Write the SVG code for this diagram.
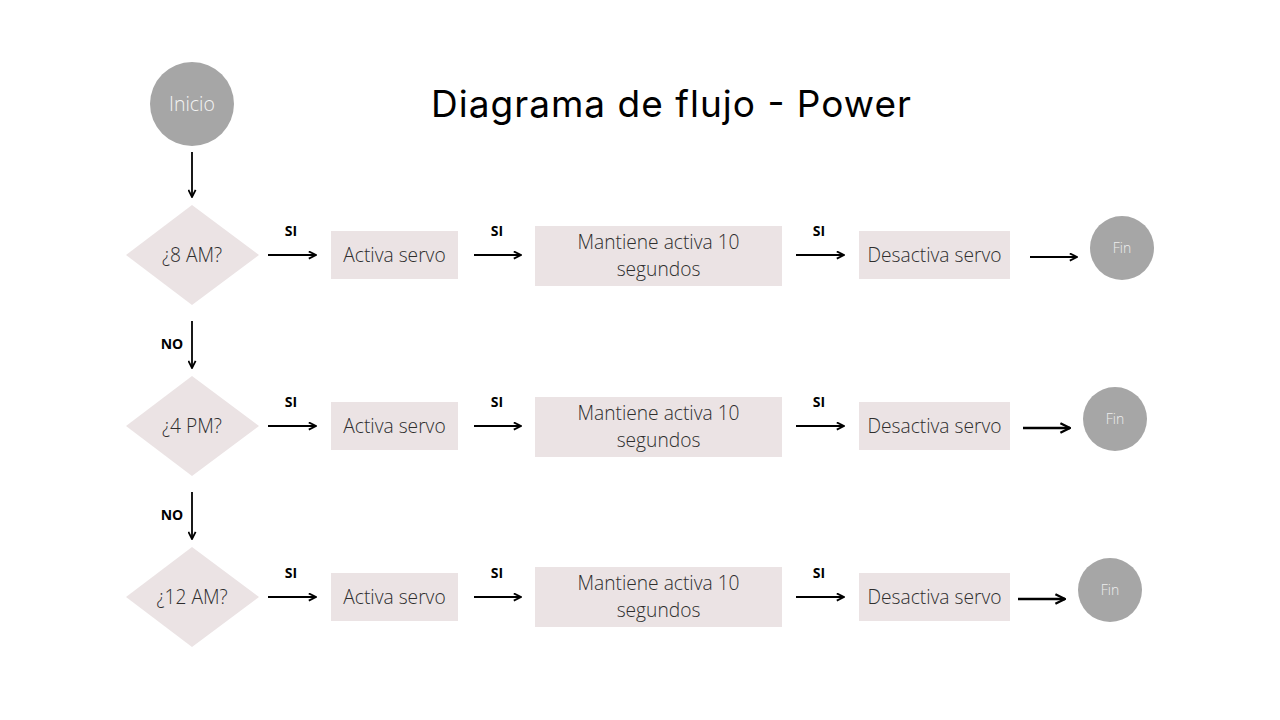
<svg xmlns="http://www.w3.org/2000/svg" width="1280" height="720" viewBox="0 0 1280 720">
<defs>
<marker id="ah" viewBox="0 0 10 10" refX="9" refY="5" markerWidth="5" markerHeight="5" markerUnits="strokeWidth" orient="auto">
<path d="M1,1 L9,5 L1,9" fill="none" stroke="#000" stroke-width="2"/>
</marker>
</defs>
<style>
.bg{fill:#ffffff}
.box{fill:#ebe3e4}
.dia{fill:#ebe3e4}
.term{fill:#a6a6a6}
.t{font-family:"Open Sans","Liberation Sans",sans-serif;font-size:19.2px;font-weight:300;fill:#2e2e2e;text-anchor:middle}
.lbl{font-family:"Open Sans","Liberation Sans",sans-serif;font-size:14px;font-weight:bold;fill:#000;text-anchor:middle}
.ti{font-family:"Open Sans","Liberation Sans",sans-serif;font-size:19.5px;font-weight:300;fill:#f4f4f4;text-anchor:middle}
.tf{font-family:"Open Sans","Liberation Sans",sans-serif;font-size:14px;font-weight:300;fill:#eeeeee;text-anchor:middle}
.title{font-family:"Inter","Noto Sans",sans-serif;font-size:37px;fill:#000;text-anchor:middle}
.c{stroke:#000;stroke-width:1.8;fill:none;marker-end:url(#ah)}
</style>
<rect class="bg" x="0" y="0" width="1280" height="720"/>
<text class="title" x="671" y="117" textLength="480" lengthAdjust="spacing">Diagrama de flujo - Power</text>

<g id="inicio"><circle class="term" cx="192" cy="104" r="42"/><text class="ti" x="192" y="111">Inicio</text></g>

<g id="d1"><polygon class="dia" points="192,205 259,255 192,305 126,255"/><text class="t" x="192" y="262">¿8 AM?</text></g>
<g id="a1"><rect class="box" x="331" y="231" width="127" height="48"/><text class="t" x="394.5" y="262">Activa servo</text></g>
<g id="m1"><rect class="box" x="535" y="226" width="247" height="60"/><text class="t" x="658.5" y="249">Mantiene activa 10</text><text class="t" x="658.5" y="276">segundos</text></g>
<g id="s1"><rect class="box" x="859" y="231" width="151" height="48"/><text class="t" x="934.5" y="262">Desactiva servo</text></g>
<g id="f1"><circle class="term" cx="1122" cy="248" r="32"/><text class="tf" x="1122" y="253">Fin</text></g>

<g id="d2"><polygon class="dia" points="192,376 259,426 192,476 126,426"/><text class="t" x="192" y="433">¿4 PM?</text></g>
<g id="a2"><rect class="box" x="331" y="402" width="127" height="48"/><text class="t" x="394.5" y="433">Activa servo</text></g>
<g id="m2"><rect class="box" x="535" y="397" width="247" height="60"/><text class="t" x="658.5" y="420">Mantiene activa 10</text><text class="t" x="658.5" y="447">segundos</text></g>
<g id="s2"><rect class="box" x="859" y="402" width="151" height="48"/><text class="t" x="934.5" y="433">Desactiva servo</text></g>
<g id="f2"><circle class="term" cx="1115" cy="419" r="32"/><text class="tf" x="1115" y="424">Fin</text></g>

<g id="d3"><polygon class="dia" points="192,547 259,597 192,647 126,597"/><text class="t" x="192" y="604">¿12 AM?</text></g>
<g id="a3"><rect class="box" x="331" y="573" width="127" height="48"/><text class="t" x="394.5" y="604">Activa servo</text></g>
<g id="m3"><rect class="box" x="535" y="567" width="247" height="60"/><text class="t" x="658.5" y="590">Mantiene activa 10</text><text class="t" x="658.5" y="617">segundos</text></g>
<g id="s3"><rect class="box" x="859" y="573" width="151" height="48"/><text class="t" x="934.5" y="604">Desactiva servo</text></g>
<g id="f3"><circle class="term" cx="1110" cy="590" r="32"/><text class="tf" x="1110" y="595">Fin</text></g>

<g id="connectors">
<line class="c" x1="192" y1="152" x2="192" y2="197"/>
<line class="c" x1="192" y1="321" x2="192" y2="368"/>
<line class="c" x1="192" y1="492" x2="192" y2="539"/>
<line class="c" x1="268" y1="255" x2="316" y2="255"/>
<line class="c" x1="474" y1="255" x2="521" y2="255"/>
<line class="c" x1="796" y1="255" x2="844" y2="255"/>
<line class="c" x1="1030" y1="257" x2="1077" y2="257"/>
<line class="c" x1="268" y1="426" x2="316" y2="426"/>
<line class="c" x1="474" y1="426" x2="521" y2="426"/>
<line class="c" x1="796" y1="426" x2="844" y2="426"/>
<line class="c" x1="1023" y1="428" x2="1070" y2="428" style="stroke-width:2.4"/>
<line class="c" x1="268" y1="597" x2="316" y2="597"/>
<line class="c" x1="474" y1="597" x2="521" y2="597"/>
<line class="c" x1="796" y1="597" x2="844" y2="597"/>
<line class="c" x1="1018" y1="599" x2="1065" y2="599" style="stroke-width:2.4"/>
<text class="lbl" x="172" y="349">NO</text>
<text class="lbl" x="172" y="520">NO</text>
<text class="lbl" x="291" y="236">SI</text>
<text class="lbl" x="497" y="236">SI</text>
<text class="lbl" x="819" y="236">SI</text>
<text class="lbl" x="291" y="407">SI</text>
<text class="lbl" x="497" y="407">SI</text>
<text class="lbl" x="819" y="407">SI</text>
<text class="lbl" x="291" y="578">SI</text>
<text class="lbl" x="497" y="578">SI</text>
<text class="lbl" x="819" y="578">SI</text>
</g>
</svg>
